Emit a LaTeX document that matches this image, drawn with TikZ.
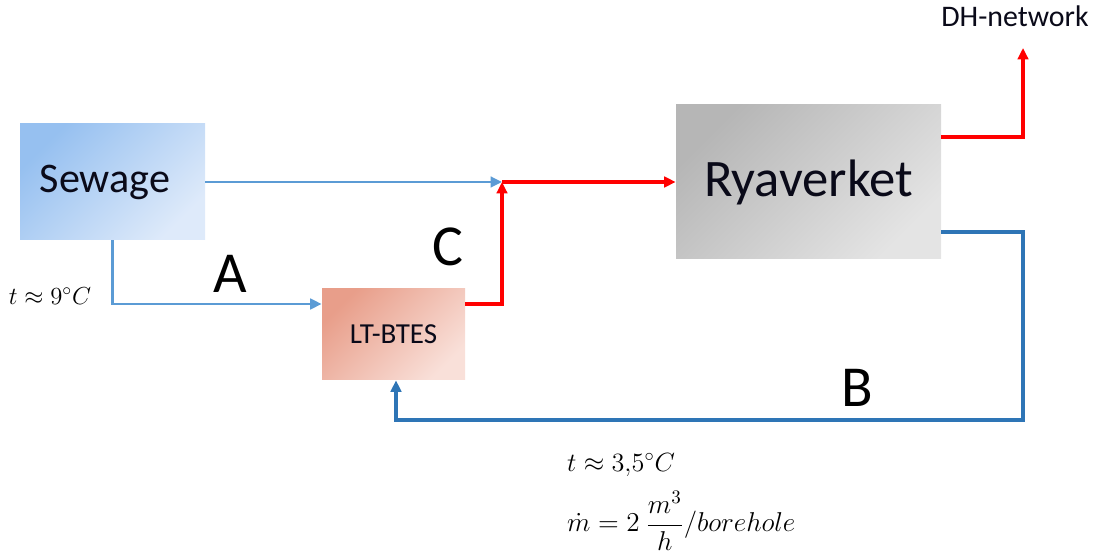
\documentclass[tikz,border=0pt]{standalone}
\usepackage{fix-cm}
\usepackage{amsmath}
\usepackage{fontspec}
\setmainfont{Carlito}
\usetikzlibrary{arrows.meta, positioning, calc}
\definecolor{SD}{RGB}{150,192,240}
\definecolor{SL}{RGB}{222,234,250}
\definecolor{RD}{RGB}{232,158,138}
\definecolor{RL}{RGB}{249,224,217}
\definecolor{GD}{RGB}{182,182,182}
\definecolor{GL}{RGB}{228,228,228}
\definecolor{LBl}{RGB}{91,155,213}
\definecolor{DBl}{RGB}{46,117,182}
\definecolor{HR}{RGB}{255,0,0}
\definecolor{TX}{RGB}{10,10,25}

\begin{document}
\begin{tikzpicture}[
  box/.style 2 args={draw=none, top color=#1, bottom color=#2,
              shading angle=45, align=center, text=TX},
  lbl/.style={font=\fontsize{33}{37}\selectfont, text=black},
  eq/.style={font=\fontsize{15}{18}\selectfont, anchor=west, inner sep=1pt},
  arr/.style={-{Triangle[length=6.5pt, width=6pt]}, line width=#1},
  arr/.default=1.9pt
]
\useasboundingbox (0,0) rectangle (21.88,11.06);

\node[box={SD}{SL}, minimum width=3.7cm, minimum height=2.32cm,
      font=\fontsize{24}{28}\selectfont] (sew) at (2.25, 7.42) {Sewage\hspace{0.3cm}};
\node[box={GD}{GL}, minimum width=5.3cm, minimum height=3.08cm,
      font=\fontsize{30}{34}\selectfont] (rya) at (16.17, 7.42) {Ryaverket};
\node[box={RD}{RL}, minimum width=2.86cm, minimum height=1.82cm,
      font=\fontsize{16.5}{19}\selectfont] (bts) at (7.87, 4.37) {LT-BTES};
\node[font=\fontsize{17}{20}\selectfont, text=TX] (dh) at (20.30, 10.74) {DH-network};

\coordinate (jn)  at (10.04, 7.42);
\coordinate (dht) at (20.46, 10.10);

% sewage side
\draw[arr=1.6pt, LBl] (sew.east) -- (jn);
\draw[arr=1.6pt, LBl] (sew.south) |- ($(bts.west)+(0,0.61)$);
\draw[arr, HR] ($(bts.east)+(0,0.61)$) -| (jn);
\draw[arr, HR] (jn) -- (rya.west);

% plant outputs
\draw[arr, HR] ($(rya.east)+(0,0.9)$) -| (dht);
\draw[arr, DBl] ($(rya.east)+(0,-1.0)$) -| (20.46, 2.66) -| ($(bts.south)+(0.05,0)$);

\node[lbl] (la) at (4.60, 5.58) {A};
\node[lbl] (lc) at (8.95, 6.12) {C};
\node[lbl] (lb) at (17.14, 3.30) {B};

\node[font=\fontsize{14}{17}\selectfont] (t9) at (1.00, 5.14) {$t \approx 9^\circ C$};
\node[eq] (t35) at (11.30, 1.76) {$t \approx 3{,}5^\circ C$};
\node[eq, font=\fontsize{15.5}{18}\selectfont] (mdot) at (11.30, 0.64)
  {$\dot{m} = 2\ \dfrac{m^3}{h}/borehole$};
\end{tikzpicture}
\end{document}
